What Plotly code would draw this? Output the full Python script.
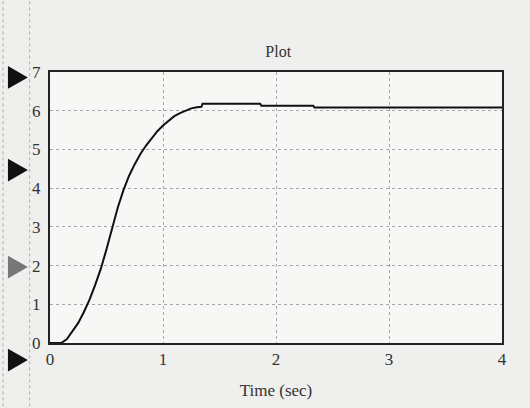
import plotly.graph_objects as go

time_s = [0, 0.1, 0.15, 0.2, 0.25, 0.3, 0.35, 0.4, 0.45, 0.5, 0.55, 0.6, 0.65, 0.7,
          0.75, 0.8, 0.85, 0.9, 0.95, 1.0, 1.05, 1.1, 1.15, 1.2, 1.25, 1.3, 1.34,
          1.35, 1.86, 1.87, 2.33, 2.34, 4.0]
output = [0, 0, 0.1, 0.3, 0.52, 0.8, 1.12, 1.5, 1.92, 2.42, 2.95, 3.5, 3.95, 4.32,
          4.62, 4.88, 5.1, 5.3, 5.47, 5.62, 5.75, 5.86, 5.94, 6.0, 6.06, 6.09, 6.1,
          6.18, 6.18, 6.13, 6.13, 6.08, 6.08]
x_ticks = [0, 1, 2, 3, 4]
y_ticks = [0, 1, 2, 3, 4, 5, 6, 7]

fig = go.Figure()
fig.add_trace(go.Scatter(x=time_s, y=output, mode="lines",
                         line=dict(color="#111111", width=2), showlegend=False))

font = dict(family="Liberation Serif, Times New Roman, serif", size=17, color="#333333")

fig.update_layout(
    width=530, height=408,
    margin=dict(l=50, r=28, t=72, b=65),
    paper_bgcolor="#efefed", plot_bgcolor="#f7f7f5",
    font=font,
    title=dict(text="Plot", x=0.525, xanchor="center", y=0.875, yanchor="middle",
               font=dict(family=font["family"], size=16, color="#333333")),
    xaxis=dict(range=[0, 4], tickvals=x_ticks, showgrid=True, gridcolor="#a8a8a8",
               griddash="dot", gridwidth=1, zeroline=False, showline=True,
               linecolor="#222222", linewidth=2, mirror=True, ticks="",
               title=dict(text="Time (sec)", standoff=16, font=font)),
    yaxis=dict(range=[0, 7], tickvals=y_ticks, showgrid=True, gridcolor="#a8a8a8",
               griddash="dot", gridwidth=1, zeroline=False, showline=True,
               linecolor="#222222", linewidth=2, mirror=True, ticks="", ticklabelstandoff=4),
)

# decorative port triangles and left guide lines (paper coordinates)
tri = [(0.98, "#111111"), (0.638, "#111111"), (0.28, "#777777"), (-0.063, "#111111")]
for yc, col in tri:
    fig.add_shape(type="path", xref="paper", yref="paper",
                  path=f"M -0.093 {yc+0.042} L -0.049 {yc} L -0.093 {yc-0.042} Z",
                  fillcolor=col, line=dict(width=0))
for xp in [-0.104, -0.045]:
    fig.add_shape(type="line", xref="paper", yref="paper", x0=xp, x1=xp, y0=-0.3, y1=1.3,
                  line=dict(color="#aaaaaa", width=1, dash="dot"))

fig.write_html("out.html", config={"displayModeBar": False},
               post_script="document.body.style.margin='0';")
